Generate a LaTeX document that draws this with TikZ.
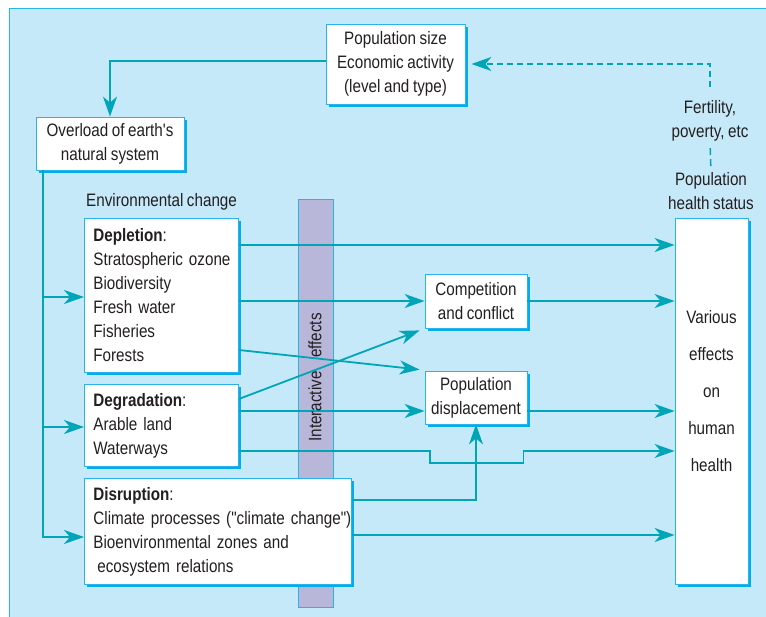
\documentclass[tikz,border=0pt]{standalone}
\usepackage{fontspec}
\setmainfont{Liberation Sans}[FakeStretch=0.845, WordSpace=0.85, Ligatures=TeXOff]
\usetikzlibrary{arrows.meta, positioning, shadows}

\definecolor{bgblue}{RGB}{198,233,249}
\definecolor{edgeblue}{RGB}{40,180,235}
\definecolor{shadowblue}{RGB}{0,174,239}
\definecolor{flowteal}{RGB}{0,166,184}
\definecolor{barlilac}{RGB}{185,183,217}
\definecolor{inkgrey}{RGB}{35,31,32}

\begin{document}
\begin{tikzpicture}[
        x=1pt, y=-1pt,
        every node/.style={font=\fontsize{18}{24}\selectfont, text=inkgrey},
        box/.style={rectangle, draw=edgeblue, line width=0.8pt, fill=white, inner sep=0pt, align=center,
            drop shadow={shadow xshift=3pt, shadow yshift=-3pt, fill=shadowblue, opacity=1}},
        listbox/.style={box, anchor=north west, align=left, inner xsep=9pt},
        caption/.style={align=center, inner sep=0pt},
        arrow/.style={-{Stealth[length=20pt, width=14pt, inset=6pt]}, line width=1.8pt, draw=flowteal},
        feedback/.style={arrow, dash pattern=on 6pt off 4pt, line width=1.5pt}
    ]
        \useasboundingbox (0,0) rectangle (766,617);
        \fill[bgblue] (9,9) rectangle (766,617);
        \draw[edgeblue, line width=1pt] (9,617) -- (9,9) -- (766,9);

        % interactive effects bar
        \node[rectangle, draw=edgeblue, fill=barlilac, minimum width=35, minimum height=408, inner sep=0pt] (interact) at (315.5,403) {};

        \node[box, minimum width=139, minimum height=80] (popsize) at (395.5,64) {Population size\\Economic activity\\(level and type)};
        \node[box, minimum width=148, minimum height=53] (overload) at (110,143.5) {Overload of earth's\\natural system};
        \node[listbox, text width=136, minimum height=154] (deplete) at (84,218) {\textbf{Depletion}:\\\mbox{Stratospheric ozone}\\Biodiversity\\Fresh water\\Fisheries\\Forests};
        \node[caption, above right=8pt and 2pt of deplete.north west] (envlabel) {Environmental change};
        \node[listbox, text width=136, minimum height=82] (degrade) at (84,384) {\textbf{Degradation}:\\Arable land\\Waterways};
        \node[listbox, text width=249, minimum height=106] (disrupt) at (84,478) {\textbf{Disruption}:\\\mbox{Climate processes ("climate change")}\\Bioenvironmental zones and\\\hspace*{4pt}ecosystem relations};
        \node[box, minimum width=102, minimum height=54] (compete) at (476,301) {Competition\\and conflict};
        \node[box, minimum width=102, minimum height=53] (displace) at (476,397.5) {Population\\displacement};
        \node[box, minimum width=73, minimum height=366] (various) at (711.5,401) {};
        \node[caption, font=\fontsize{18}{37}\selectfont] (variouslabel) at (711.5,391) {Various\\effects\\on\\human\\health};
        \node[caption] (healthlabel) at (711,191) {Population\\health status};
        \node[caption] (fertlabel) at (710,121) {Fertility,\\poverty, etc};

        % feedback loop
        \draw[feedback, shorten >=6pt] ([yshift=13pt]fertlabel.north) |- (popsize.east);
        \draw[feedback, -, dash pattern=on 7pt off 4pt, shorten <=6pt, shorten >=6pt] (healthlabel.north) -- (fertlabel.south);
        \draw[arrow] (popsize.west |- 0,61) -| (overload.north);

        % overload into the three kinds of change
        \draw[arrow] ([xshift=7pt]overload.south west) |- (deplete.west |- 0,297);
        \draw[arrow] ([xshift=7pt]overload.south west) |- (degrade.west |- 0,427);
        \draw[arrow] ([xshift=7pt]overload.south west) |- (disrupt.west |- 0,537);

        % routes to health
        \draw[arrow] (deplete.east |- 0,245) -- (various.west |- 0,245);
        \draw[arrow] (deplete.east |- 0,301) -- (compete.west);
        \draw[arrow] (deplete.east |- 0,350) -- ([xshift=-5pt,yshift=1pt]displace.north west);
        \draw[arrow] (degrade.east |- 0,399) -- ([xshift=-5pt,yshift=-2pt]compete.south west);
        \draw[arrow] (degrade.east |- 0,411) -- (displace.west |- 0,411);
        \draw[arrow] (degrade.east |- 0,451) -- ([xshift=5pt]displace.west |- 0,451) -- ([xshift=5pt]displace.west |- 0,463)
            -- ([xshift=-4pt]displace.east |- 0,463) -- ([xshift=-4pt]displace.east |- 0,451) -- (various.west |- 0,451);
        \draw[arrow] (disrupt.east |- 0,500) -| (displace.south);
        \draw[arrow] (disrupt.east |- 0,535) -- (various.west |- 0,535);
        \draw[arrow] (compete.east) -- (various.west |- compete.east);
        \draw[arrow] (displace.east |- 0,411) -- (various.west |- 0,411);

        \node[rotate=90, inner sep=0pt] (interactlabel) at (315,377.5) {Interactive\hspace{10pt} effects};
    \end{tikzpicture}
\end{document}
